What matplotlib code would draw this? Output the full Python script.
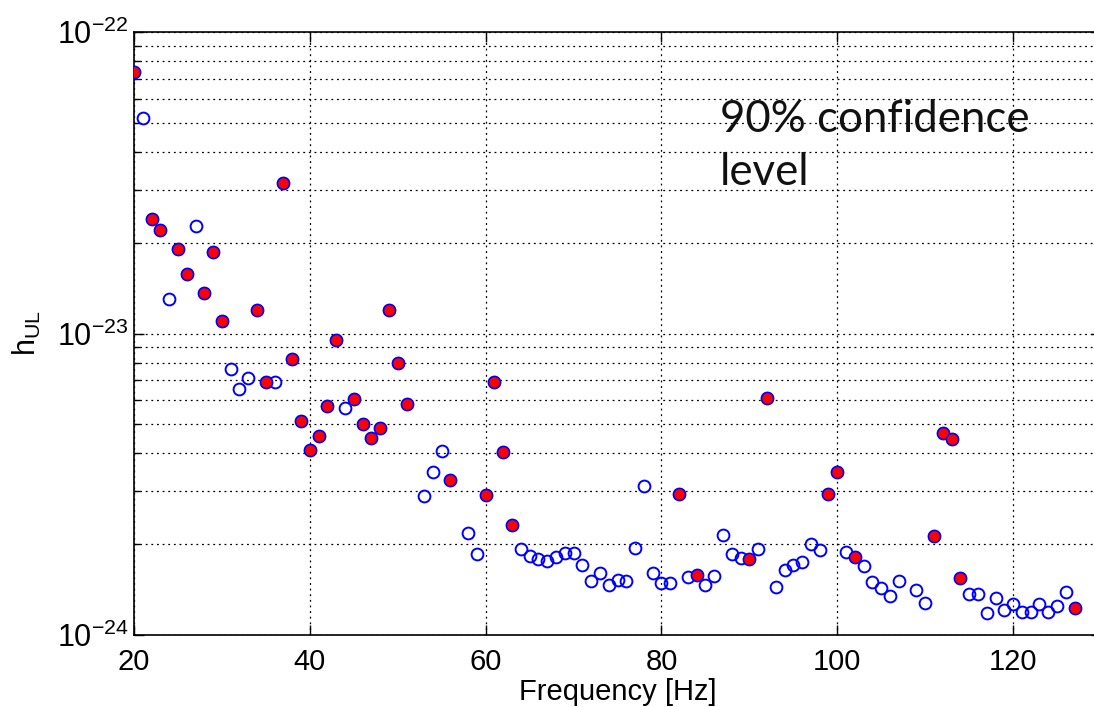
import numpy as np
import matplotlib
matplotlib.use('Agg')
import matplotlib.pyplot as plt
from matplotlib.ticker import FixedLocator, LogLocator, LogFormatterMathtext, NullFormatter

# tick / label font (Helvetica-like)
plt.rcParams['font.family'] = 'Liberation Sans'
plt.rcParams['mathtext.fontset'] = 'custom'
plt.rcParams['mathtext.rm'] = 'Liberation Sans'
plt.rcParams['mathtext.it'] = 'Liberation Sans'
plt.rcParams['mathtext.bf'] = 'Liberation Sans'

# frequency bins [Hz]
freq = [20, 21, 22, 23, 24, 25, 26, 27, 28, 29, 30, 31, 32, 33, 34, 35, 36, 37, 38, 39,
        40, 41, 42, 43, 44, 45, 46, 47, 48, 49, 50, 51, 53, 54, 55, 56, 58, 59, 60, 61,
        62, 63, 64, 65, 66, 67, 68, 69, 70, 71, 72, 73, 74, 75, 76, 77, 78, 79, 80, 81,
        82, 83, 84, 85, 86, 87, 88, 89, 90, 91, 92, 93, 94, 95, 96, 97, 98, 99, 100, 101,
        102, 103, 104, 105, 106, 107, 109, 110, 111, 112, 113, 114, 115, 116, 117, 118, 119, 120, 121, 122,
        123, 124, 125, 126, 127]

# upper limits h_UL
h_ul = [7.38e-23, 5.18e-23, 2.39e-23, 2.20e-23, 1.30e-23, 1.90e-23, 1.58e-23, 2.27e-23, 1.36e-23, 1.86e-23,
        1.10e-23, 7.65e-24, 6.56e-24, 7.14e-24, 1.20e-23, 6.88e-24, 6.93e-24, 3.15e-23, 8.20e-24, 5.14e-24,
        4.12e-24, 4.58e-24, 5.77e-24, 9.55e-24, 5.68e-24, 6.08e-24, 5.02e-24, 4.51e-24, 4.87e-24, 1.20e-23,
        8.01e-24, 5.85e-24, 2.90e-24, 3.48e-24, 4.09e-24, 3.27e-24, 2.18e-24, 1.86e-24, 2.92e-24, 6.88e-24,
        4.06e-24, 2.32e-24, 1.93e-24, 1.83e-24, 1.78e-24, 1.76e-24, 1.82e-24, 1.87e-24, 1.87e-24, 1.71e-24,
        1.51e-24, 1.60e-24, 1.47e-24, 1.52e-24, 1.51e-24, 1.95e-24, 3.13e-24, 1.60e-24, 1.49e-24, 1.49e-24,
        2.94e-24, 1.56e-24, 1.58e-24, 1.47e-24, 1.57e-24, 2.15e-24, 1.85e-24, 1.80e-24, 1.78e-24, 1.93e-24,
        6.12e-24, 1.44e-24, 1.64e-24, 1.71e-24, 1.75e-24, 2.01e-24, 1.92e-24, 2.94e-24, 3.48e-24, 1.89e-24,
        1.82e-24, 1.69e-24, 1.50e-24, 1.43e-24, 1.35e-24, 1.51e-24, 1.41e-24, 1.28e-24, 2.13e-24, 4.69e-24,
        4.48e-24, 1.55e-24, 1.37e-24, 1.37e-24, 1.18e-24, 1.33e-24, 1.21e-24, 1.27e-24, 1.19e-24, 1.19e-24,
        1.27e-24, 1.19e-24, 1.25e-24, 1.39e-24, 1.23e-24]

# bins marked with filled red circles
red_freq = [20, 22, 23, 25, 26, 28, 29, 30, 34, 35, 37, 38, 39, 40, 41, 42, 43, 45, 46, 47,
            48, 49, 50, 51, 56, 60, 61, 62, 63, 82, 84, 90, 92, 99, 100, 102, 111, 112, 113, 114, 127]

freq = np.array(freq)
h_ul = np.array(h_ul)
is_red = np.isin(freq, red_freq)

fig = plt.figure(figsize=(10.94, 7.07), dpi=100)
# right spine sits just past the image edge, like the cropped original
ax = fig.add_axes([134/1094, 1 - 635/707, (1101 - 134)/1094, (635 - 32)/707])

ax.plot(freq, h_ul, 'o', ls='none', ms=8.5, mfc='none', mec='#0000ff', mew=1.4, zorder=3)
ax.plot(freq[is_red], h_ul[is_red], 'o', ls='none', ms=8.5, mfc='#ff0000', mec='#0000ff', mew=1.0, zorder=4)

ax.set_yscale('log')
ax.set_xlim(20, 130)
ax.set_ylim(1e-24, 1e-22)
ax.set_xticks([20, 40, 60, 80, 100, 120])
ax.yaxis.set_major_locator(FixedLocator([1e-24, 1e-23, 1e-22]))
ax.yaxis.set_major_formatter(LogFormatterMathtext())
ax.yaxis.set_minor_locator(LogLocator(base=10, subs=np.arange(2, 10)))
ax.yaxis.set_minor_formatter(NullFormatter())

ax.grid(True, which='major', axis='both', color='k', linestyle=(0, (1.5, 3)), linewidth=0.9)
ax.grid(True, which='minor', axis='y', color='k', linestyle=(0, (1.5, 3)), linewidth=0.9)
ax.set_axisbelow(True)

ax.tick_params(which='both', direction='in', top=True, right=True, width=1, colors='k')
ax.tick_params(axis='x', which='major', length=7, pad=9, labelsize=21)
ax.tick_params(axis='y', which='major', length=7, pad=4, labelsize=22)
ax.tick_params(which='minor', length=4)
for s in ax.spines.values():
    s.set_linewidth(1.2)

ax.set_xlabel('Frequency [Hz]', fontsize=21, labelpad=2)
ax.set_ylabel(r'h$_{\mathrm{UL}}$', fontsize=22, labelpad=10)

# annotation overlaid on the plot
fig.text(720/1094, 1 - 132/707, '90% confidence', family='Lato', fontsize=31.5,
         ha='left', va='baseline', color='#111111')
fig.text(720/1094, 1 - 185/707, 'level', family='Lato', fontsize=31.5,
         ha='left', va='baseline', color='#111111')

fig.savefig('out.png', dpi=100)
